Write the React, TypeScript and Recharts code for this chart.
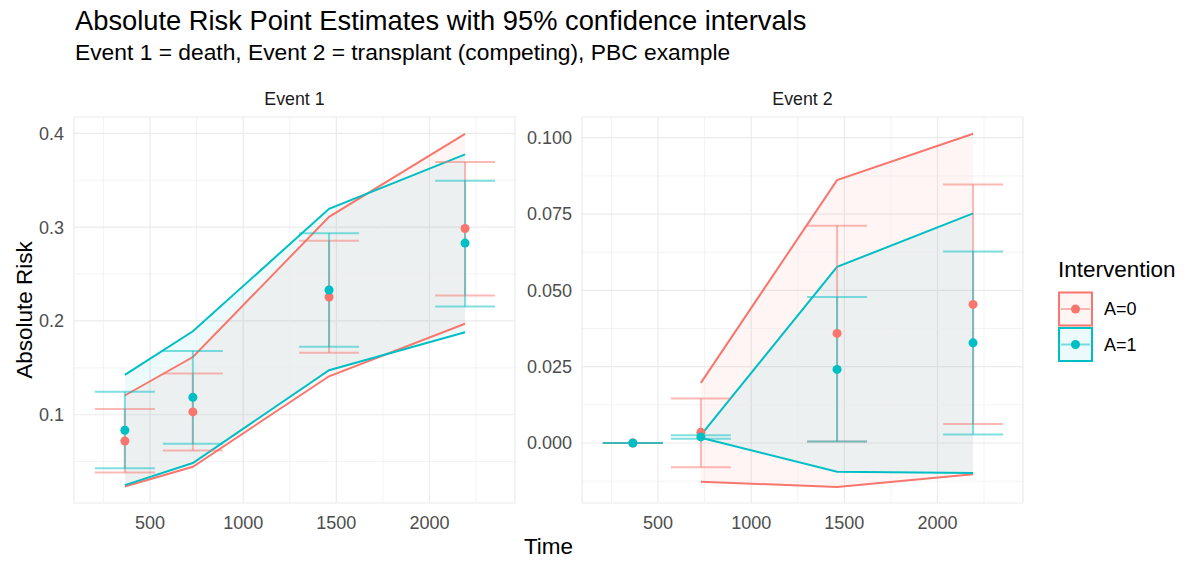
import React from "react";
import {
  Area,
  CartesianGrid,
  ComposedChart,
  ErrorBar,
  Line,
  ReferenceLine,
  Scatter,
  XAxis,
  YAxis
} from "recharts";

const RED = "#F8766D";
const TEAL = "#00BFC4";
const RED_BAR = "rgba(248,118,109,0.5)";
const TEAL_BAR = "rgba(0,191,196,0.5)";
const FONT = "'Liberation Sans', Arial, Helvetica, sans-serif";

// time points (days)
const times = [365, 730, 1461, 2191];

// Event 1 (death)
const e1EstA0 = [0.072, 0.103, 0.2255, 0.2985];
const e1LoA0 = [0.0385, 0.062, 0.166, 0.227];
const e1HiA0 = [0.106, 0.144, 0.2855, 0.3695];
const e1EstA1 = [0.0835, 0.1185, 0.233, 0.283];
const e1LoA1 = [0.043, 0.069, 0.1725, 0.2155];
const e1HiA1 = [0.1245, 0.168, 0.2935, 0.3495];
const e1BandLoA0 = [0.0235, 0.0445, 0.141, 0.197];
const e1BandHiA0 = [0.1205, 0.1615, 0.311, 0.3995];
const e1BandLoA1 = [0.025, 0.0485, 0.1475, 0.188];
const e1BandHiA1 = [0.1425, 0.189, 0.3195, 0.3775];

// Event 2 (transplant)
const e2EstA0 = [0, 0.0035, 0.0359, 0.0454];
const e2LoA0 = [0, -0.0079, 0.0005, 0.0062];
const e2HiA0 = [0, 0.0146, 0.0712, 0.0847];
const e2EstA1 = [0, 0.002, 0.0241, 0.0328];
const e2LoA1 = [0, 0.0014, 0.0005, 0.0028];
const e2HiA1 = [0, 0.0025, 0.0478, 0.0627];
const e2BandLoA0 = [null, -0.0127, -0.0144, -0.0102];
const e2BandHiA0 = [null, 0.0197, 0.0861, 0.1013];
const e2BandLoA1 = [null, 0.0017, -0.0094, -0.0098];
const e2BandHiA1 = [null, 0.0026, 0.0577, 0.0752];

// axes
const xDomain = [92, 2459];
const xTicks = [500, 1000, 1500, 2000];
const xMinor = [250, 750, 1250, 1750, 2250];
const e1Domain = [0.0059, 0.4174];
const e1Ticks = [0.1, 0.2, 0.3, 0.4];
const e1Minor = [0.05, 0.15, 0.25, 0.35];
const e2Domain = [-0.01965, 0.10678];
const e2Ticks = [0, 0.025, 0.05, 0.075, 0.1];
const e2Minor = [-0.0125, 0.0125, 0.0375, 0.0625, 0.0875];

type Num = number | null;

function buildRows(
  est0: number[], lo0: number[], hi0: number[],
  est1: number[], lo1: number[], hi1: number[],
  bLo0: Num[], bHi0: Num[], bLo1: Num[], bHi1: Num[]
) {
  return times.map((t, i) => ({
    t,
    band0: bLo0[i] == null ? null : [bLo0[i], bHi0[i]],
    band1: bLo1[i] == null ? null : [bLo1[i], bHi1[i]],
    bLo0: bLo0[i],
    bHi0: bHi0[i],
    bLo1: bLo1[i],
    bHi1: bHi1[i],
    est0: est0[i],
    err0: [est0[i] - lo0[i], hi0[i] - est0[i]],
    est1: est1[i],
    err1: [est1[i] - lo1[i], hi1[i] - est1[i]]
  }));
}

const e1Rows = buildRows(e1EstA0, e1LoA0, e1HiA0, e1EstA1, e1LoA1, e1HiA1, e1BandLoA0, e1BandHiA0, e1BandLoA1, e1BandHiA1);
const e2Rows = buildRows(e2EstA0, e2LoA0, e2HiA0, e2EstA1, e2LoA1, e2HiA1, e2BandLoA0, e2BandHiA0, e2BandLoA1, e2BandHiA1);

const noShape = () => <g />;

function Panel({
  rows, left, width, axisWidth, marginRight, domain, ticks, minor, fmt
}: {
  rows: any[]; left: number; width: number; axisWidth: number; marginRight: number;
  domain: number[]; ticks: number[]; minor: number[]; fmt: (v: number) => string;
}) {
  const tickStyle = { fill: "#4d4d4d", fontSize: 18, fontFamily: FONT };
  return (
    <div style={{ position: "absolute", left, top: 0 }}>
      <ComposedChart width={width} height={570} data={rows} margin={{ top: 117, right: marginRight, bottom: 0, left: 0 }}>
        <CartesianGrid stroke="#ebebeb" strokeWidth={1.2} />
        {xMinor.map((v) => (
          <ReferenceLine key={"x" + v} x={v} stroke="#ebebeb" strokeWidth={0.6} />
        ))}
        {minor.map((v) => (
          <ReferenceLine key={"y" + v} y={v} stroke="#ebebeb" strokeWidth={0.6} />
        ))}
        <XAxis
          dataKey="t"
          type="number"
          domain={xDomain}
          ticks={xTicks}
          allowDataOverflow
          axisLine={false}
          tickLine={false}
          tickSize={0}
          tickMargin={13}
          height={67}
          tick={tickStyle}
        />
        <YAxis
          type="number"
          domain={domain}
          ticks={ticks}
          allowDataOverflow
          axisLine={false}
          tickLine={false}
          tickSize={0}
          tickMargin={10}
          width={axisWidth}
          tickFormatter={fmt}
          tick={tickStyle}
        />
        <Area dataKey="band0" type="linear" fill={RED} fillOpacity={0.07} stroke="none" isAnimationActive={false} />
        <Area dataKey="band1" type="linear" fill={TEAL} fillOpacity={0.07} stroke="none" isAnimationActive={false} />
        <Line dataKey="bHi0" type="linear" stroke={RED} strokeWidth={2} dot={false} isAnimationActive={false} />
        <Line dataKey="bLo0" type="linear" stroke={RED} strokeWidth={2} dot={false} isAnimationActive={false} />
        <Line dataKey="bHi1" type="linear" stroke={TEAL} strokeWidth={2} dot={false} isAnimationActive={false} />
        <Line dataKey="bLo1" type="linear" stroke={TEAL} strokeWidth={2} dot={false} isAnimationActive={false} />
        <Scatter dataKey="est0" shape={noShape} isAnimationActive={false}>
          <ErrorBar dataKey="err0" direction="y" width={30} stroke={RED_BAR} strokeWidth={2} />
        </Scatter>
        <Scatter dataKey="est1" shape={noShape} isAnimationActive={false}>
          <ErrorBar dataKey="err1" direction="y" width={30} stroke={TEAL_BAR} strokeWidth={2} />
        </Scatter>
        <Scatter dataKey="est0" fill={RED} isAnimationActive={false} />
        <Scatter dataKey="est1" fill={TEAL} isAnimationActive={false} />
      </ComposedChart>
    </div>
  );
}

export default function App() {
  return (
    <div style={{ position: "absolute", left: 0, top: 0, width: 1200, height: 570, background: "#fff", fontFamily: FONT }}>
      <Panel rows={e1Rows} left={0} width={530} axisWidth={74} marginRight={15} domain={e1Domain} ticks={e1Ticks} minor={e1Minor} fmt={(v) => v.toFixed(1)} />
      <Panel rows={e2Rows} left={500} width={530} axisWidth={82} marginRight={7} domain={e2Domain} ticks={e2Ticks} minor={e2Minor} fmt={(v) => v.toFixed(3)} />
      <svg width={1200} height={570} style={{ position: "absolute", left: 0, top: 0, pointerEvents: "none" }} fontFamily={FONT}>
        <text x={75} y={30.3} fontSize={27.3} fill="#000">Absolute Risk Point Estimates with 95% confidence intervals</text>
        <text x={75} y={59.5} fontSize={22.8} fill="#000">Event 1 = death, Event 2 = transplant (competing), PBC example</text>
        <text x={294.5} y={105.3} fontSize={17.8} fill="#1a1a1a" textAnchor="middle">Event 1</text>
        <text x={802.5} y={105.3} fontSize={17.8} fill="#1a1a1a" textAnchor="middle">Event 2</text>
        <text x={548.5} y={553.5} fontSize={22.5} fill="#000" textAnchor="middle">Time</text>
        <text x={0} y={0} fontSize={22.5} fill="#000" textAnchor="middle" transform="translate(32,310) rotate(-90)">Absolute Risk</text>
        <text x={1058} y={276.7} fontSize={22.5} fill="#000">Intervention</text>
        <rect x={1059} y={292.5} width={33} height={33} fill={RED} fillOpacity={0.07} stroke={RED} strokeWidth={2} />
        <line x1={1061} x2={1090} y1={309} y2={309} stroke={RED_BAR} strokeWidth={2} />
        <circle cx={1075.5} cy={309} r={4.5} fill={RED} />
        <rect x={1059} y={328} width={33} height={33} fill={TEAL} fillOpacity={0.07} stroke={TEAL} strokeWidth={2} />
        <line x1={1061} x2={1090} y1={344.5} y2={344.5} stroke={TEAL_BAR} strokeWidth={2} />
        <circle cx={1075.5} cy={344.5} r={4.5} fill={TEAL} />
        <text x={1104} y={315.3} fontSize={18} fill="#000">A=0</text>
        <text x={1104} y={350.8} fontSize={18} fill="#000">A=1</text>
      </svg>
    </div>
  );
}
